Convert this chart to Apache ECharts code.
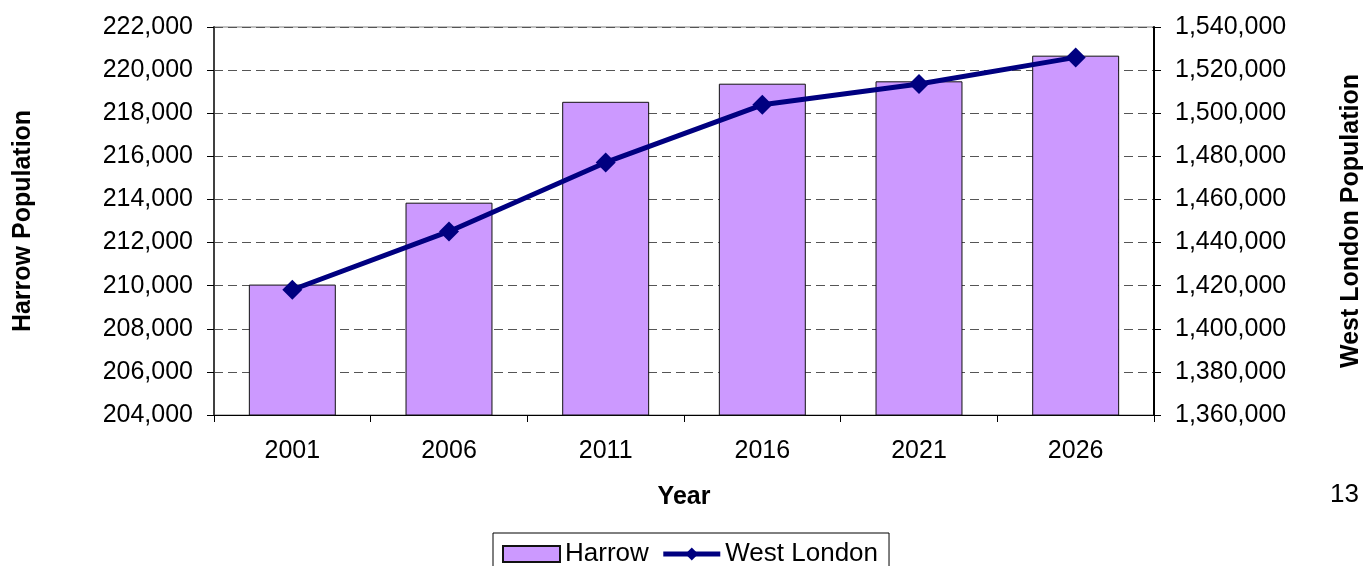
<!DOCTYPE html>
<html>
<head>
<meta charset="utf-8">
<title>Harrow and West London Population</title>
<script src="https://cdn.jsdelivr.net/npm/echarts@6/dist/echarts.min.js"></script>
<style>
  html, body { margin: 0; padding: 0; background: #fff; }
  #chart { width: 1368px; height: 566px; }
</style>
</head>
<body>
<div id="chart"></div>
<script>
// categories and values
const years = ['2001', '2006', '2011', '2016', '2021', '2026']
const harrow = [210050, 213850, 218530, 219370, 219480, 220670]       // left axis, bars
const westLondon = [1418100, 1445150, 1477170, 1503900, 1513550, 1525900] // right axis, line

const fmt = v => v.toLocaleString('en-US')
const font = 'Liberation Sans, Arial, sans-serif'

const myChart = echarts.init(document.getElementById('chart'))
const option = {
    animation: false,
    backgroundColor: '#fff',
    textStyle: { fontFamily: font, color: '#000' },
    grid: {
        left: 214, right: 214, top: 27, bottom: 151,
        outerBoundsMode: 'none',
        show: true, borderColor: '#808080', borderWidth: 1
    },
    legend: {
        top: 533,
        left: 493,
        data: [{ name: 'Harrow', icon: 'rect' }, { name: 'West London' }],
        itemWidth: 57,
        itemHeight: 16,
        itemGap: 12,
        padding: [8, 11, 8, 9],
        borderColor: '#000',
        borderWidth: 1,
        lineStyle: { width: 5 },
        textStyle: { fontSize: 26, fontFamily: font, color: '#000' }
    },
    xAxis: {
        type: 'category',
        data: years,
        name: 'Year',
        nameLocation: 'middle',
        nameGap: 70,
        nameTextStyle: { fontSize: 25, fontWeight: 'bold', fontFamily: font, color: '#000' },
        axisLine: { lineStyle: { color: '#000', width: 1 } },
        axisTick: { show: true, length: 7, lineStyle: { color: '#000' } },
        axisLabel: { fontSize: 25, margin: 24, color: '#000', fontFamily: font }
    },
    yAxis: [
        {
            type: 'value',
            min: 204000, max: 222000, interval: 2000,
            name: 'Harrow Population',
            nameLocation: 'middle',
            nameRotate: 90,
            nameGap: 178,
            nameTextStyle: { fontSize: 25, fontWeight: 'bold', fontFamily: font, color: '#000' },
            axisLine: { show: true, lineStyle: { color: '#404040', width: 2 } },
            axisTick: { show: true, length: 7, lineStyle: { color: '#000' } },
            axisLabel: { fontSize: 25, margin: 21, color: '#000', fontFamily: font, formatter: fmt },
            splitLine: { show: true, lineStyle: { color: '#555', type: [9, 5], width: 1 } }
        },
        {
            type: 'value',
            min: 1360000, max: 1540000, interval: 20000,
            name: 'West London Population',
            nameLocation: 'middle',
            nameRotate: 90,
            nameGap: 185,
            nameTextStyle: { fontSize: 25, fontWeight: 'bold', fontFamily: font, color: '#000' },
            axisLine: { show: true, lineStyle: { color: '#000', width: 2 } },
            axisTick: { show: true, length: 7, lineStyle: { color: '#000' } },
            axisLabel: { fontSize: 25, margin: 21, color: '#000', fontFamily: font, formatter: fmt },
            splitLine: { show: false }
        }
    ],
    graphic: [
        {
            type: 'text', left: 1330, top: 482,
            style: { text: '13', fontSize: 26, fontFamily: font, fill: '#000' }
        }
    ],
    series: [
        {
            name: 'Harrow',
            type: 'bar',
            yAxisIndex: 0,
            barWidth: '55.5%',
            itemStyle: { color: '#CC99FF', borderColor: '#111', borderWidth: 1 },
            data: harrow
        },
        {
            name: 'West London',
            type: 'line',
            yAxisIndex: 1,
            symbol: 'diamond',
            symbolSize: 20,
            lineStyle: { color: '#000080', width: 5 },
            itemStyle: { color: '#000080' },
            data: westLondon
        }
    ]
}
myChart.setOption(option)
</script>
</body>
</html>
